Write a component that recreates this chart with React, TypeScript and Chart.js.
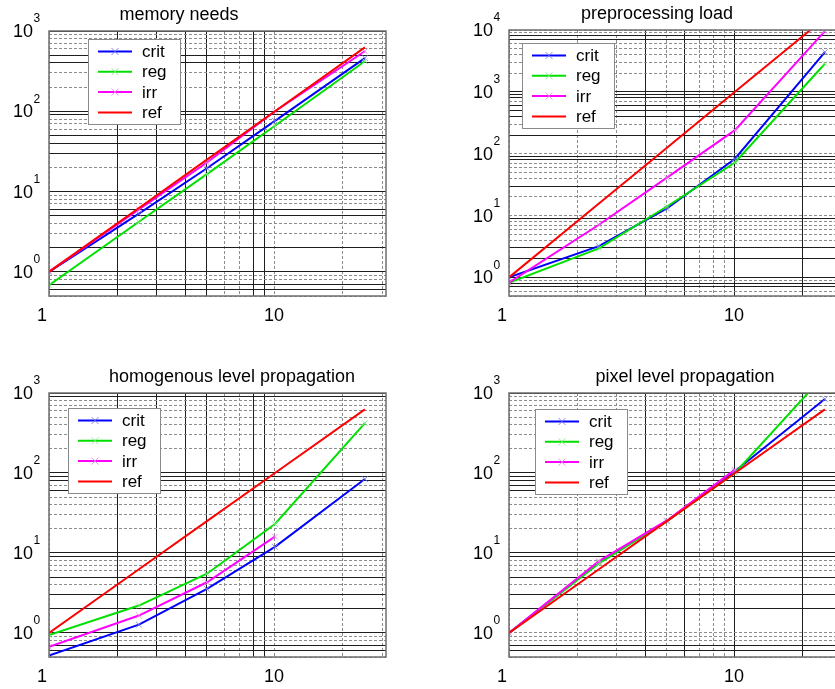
import React, { useEffect, useRef } from "react";
import { Chart, registerables } from "chart.js";

Chart.register(...registerables);

// ---------- data ----------
const xValues = [1, 2.5, 5, 10, 25];
const seriesNames = ["crit", "reg", "irr", "ref"];

const memCrit = [1, 5.3, 19.5, 76, 460];
const memReg = [0.68, 4.2, 16.5, 66, 420];
const memIrr = [1, 6, 23, 100, 560];
const memRef = [1, 6.25, 25, 100, 625];

const preCrit = [1, 3.2, 13, 83, 4400];
const preReg = [0.82, 2.95, 14, 72, 2850];
const preIrr = [0.82, 7.1, 41, 240, 9600];
const preRef = [1, 15.6, 125, 1000, 15625];

const homCrit = [0.52, 1.27, 3.55, 11.9, 84];
const homReg = [0.94, 2.2, 5.5, 23, 420];
const homIrr = [0.67, 1.65, 4.3, 16, null];
const homRef = [1, 6.25, 25, 100, 625];

const pixCrit = [1, 7.6, 25, 105, 840];
const pixReg = [1, 7.4, 25, 100, 1700];
const pixIrr = [1, 7.9, 25.5, 110, null];
const pixRef = [1, 6.25, 25, 100, 625];

const panelTitles = [
  "memory needs",
  "preprocessing load",
  "homogenous level propagation",
  "pixel level propagation",
];
const xTickValues = [1, 10];
const xTickLabels = ["1", "10"];
const xMin = 1;
const xMax = 31;
const yMin = 0.5;
const yMaxes = [1000, 10000, 1000, 1000];

const panelSeries = [
  [memCrit, memReg, memIrr, memRef],
  [preCrit, preReg, preIrr, preRef],
  [homCrit, homReg, homIrr, homRef],
  [pixCrit, pixReg, pixIrr, pixRef],
];

// ---------- styles / layout ----------
const FONT = '"Liberation Sans", Arial, Helvetica, sans-serif';
const lineColors = ["#0000ff", "#00e000", "#ff00ff", "#ff0000"];
const markerColors = [
  "rgba(120,120,230,0.85)",
  "rgba(130,230,130,0.85)",
  "rgba(235,130,235,0.85)",
  "rgba(0,0,0,0)",
];
const drawOrder = [3, 2, 1, 0];

const leftColSolidX = [2, 3, 4, 5, 8, 9];
const rightColSolidX = [4, 6, 10, 20];

const layouts = [
  {
    left: 0, top: 0, width: 417, height: 340,
    pad: { left: 49, top: 31, right: 31, bottom: 44 },
    titleDx: 130, titleDy: -11.5, legendDx: 39, legendDy: 8,
    xSolid: leftColSolidX,
    ySolid: [0.6, 0.7, 1, 2, 5, 6, 10, 30, 40, 50, 90, 100, 400, 500, 1000],
  },
  {
    left: 417, top: 0, width: 450, height: 340,
    pad: { left: 92, top: 30, right: 21, bottom: 44 },
    titleDx: 148, titleDy: -10.7, legendDx: 13, legendDy: 13,
    xSolid: rightColSolidX,
    ySolid: [0.7, 0.8, 1, 2, 3, 9, 30, 80, 90, 200, 400, 500, 600, 800, 900, 1000, 7000, 8000],
  },
  {
    left: 0, top: 340, width: 417, height: 349,
    pad: { left: 49, top: 53, right: 31, bottom: 32 },
    titleDx: 183, titleDy: -11.3, legendDx: 19, legendDy: 15,
    xSolid: leftColSolidX,
    ySolid: [0.6, 0.7, 1, 2, 3, 5, 9, 10, 60, 80, 90, 100, 900, 1000],
  },
  {
    left: 417, top: 340, width: 450, height: 349,
    pad: { left: 92, top: 53, right: 21, bottom: 32 },
    titleDx: 176, titleDy: -10.7, legendDx: 26, legendDy: 16,
    xSolid: rightColSolidX,
    ySolid: [0.6, 0.7, 2, 3, 5, 9, 10, 60, 70, 80, 90, 100, 1000],
  },
];

function logTicks(min: number, max: number) {
  const out: number[] = [];
  const e0 = Math.floor(Math.log10(min));
  const e1 = Math.ceil(Math.log10(max));
  for (let e = e0; e <= e1; e++) {
    for (let m = 1; m <= 9; m++) {
      const v = Number((m * Math.pow(10, e)).toPrecision(6));
      if (v >= min * 0.9999 && v <= max * 1.0001) out.push(v);
    }
  }
  return out;
}

function makeDecor(idx: number) {
  const L = layouts[idx];
  return {
    id: "decor" + idx,
    afterDraw(chart: any) {
      const ctx = chart.ctx as CanvasRenderingContext2D;
      const a = chart.chartArea;
      const xs = chart.scales.x;
      const ys = chart.scales.y;
      ctx.save();
      ctx.setLineDash([]);
      // axes box
      ctx.strokeStyle = "#6e6e6e";
      ctx.lineWidth = 1.5;
      ctx.strokeRect(a.left, a.top, a.right - a.left, a.bottom - a.top);

      // legend
      const bx = a.left + L.legendDx;
      const by = a.top + L.legendDy;
      const bw = 92;
      const bh = 85;
      ctx.fillStyle = "#ffffff";
      ctx.fillRect(bx, by, bw, bh);
      ctx.strokeStyle = "#8a8a8a";
      ctx.lineWidth = 1;
      ctx.strokeRect(bx + 0.5, by + 0.5, bw, bh);
      chart.data.datasets.forEach((ds: any, i: number) => {
        const ry = by + 12.5 + i * 20.3;
        ctx.strokeStyle = ds.borderColor;
        ctx.lineWidth = 2;
        ctx.beginPath();
        ctx.moveTo(bx + 10, ry);
        ctx.lineTo(bx + 44, ry);
        ctx.stroke();
        if (ds.pointRadius > 0) {
          const cx = bx + 27;
          const r = 3.5;
          ctx.strokeStyle = ds.pointBorderColor;
          ctx.lineWidth = 1;
          ctx.beginPath();
          ctx.moveTo(cx - r, ry - r);
          ctx.lineTo(cx + r, ry + r);
          ctx.moveTo(cx - r, ry + r);
          ctx.lineTo(cx + r, ry - r);
          ctx.stroke();
        }
        ctx.fillStyle = "#000";
        ctx.font = `17px ${FONT}`;
        ctx.textAlign = "left";
        ctx.textBaseline = "middle";
        ctx.fillText(ds.label, bx + 54, ry + 1);
      });

      // y tick labels (10^n)
      ctx.fillStyle = "#000";
      const eMin = Math.ceil(Math.log10(ys.min) - 1e-9);
      const eMax = Math.floor(Math.log10(ys.max) + 1e-9);
      for (let e = eMin; e <= eMax; e++) {
        const py = ys.getPixelForValue(Math.pow(10, e));
        ctx.font = `18px ${FONT}`;
        ctx.textAlign = "right";
        ctx.textBaseline = "middle";
        ctx.fillText("10", a.left - 16, py + 1);
        ctx.font = `12px ${FONT}`;
        ctx.textAlign = "left";
        ctx.fillText(String(e), a.left - 15.5, py - 12);
      }

      // x tick labels
      const xOffsets = [-7, -1];
      xTickValues.forEach((v, i) => {
        const px = xs.getPixelForValue(v);
        ctx.font = `18px ${FONT}`;
        ctx.textAlign = "center";
        ctx.textBaseline = "middle";
        ctx.fillText(xTickLabels[i], px + (xOffsets[i] || 0), a.bottom + 20);
      });

      // title
      ctx.font = `18px ${FONT}`;
      ctx.textAlign = "center";
      ctx.textBaseline = "alphabetic";
      ctx.fillText(panelTitles[idx], a.left + L.titleDx, a.top + L.titleDy);
      ctx.restore();
    },
  };
}

function Panel({ idx }: { idx: number }) {
  const ref = useRef<HTMLCanvasElement>(null);
  const L = layouts[idx];
  useEffect(() => {
    const canvas = ref.current;
    if (!canvas) return;
    const xSolid = new Set(L.xSolid);
    const ySolid = new Set(L.ySolid);
    const gridColor = (set: Set<number>) => (c: any) =>
      c.tick && set.has(c.tick.value) ? "#1e1e1e" : "#8c8c8c";
    const gridDash = (set: Set<number>) => (c: any) =>
      c.tick && set.has(c.tick.value) ? [] : [3, 2];

    const datasets = panelSeries[idx].map((vals, si) => ({
      label: seriesNames[si],
      data: xValues
        .map((x, i) => ({ x, y: vals[i] }))
        .filter((p) => p.y !== null && p.y !== undefined),
      borderColor: lineColors[si],
      backgroundColor: lineColors[si],
      borderWidth: 2,
      pointStyle: "crossRot",
      pointRadius: si === 3 ? 0 : 4,
      pointBorderColor: markerColors[si],
      pointBackgroundColor: markerColors[si],
      pointBorderWidth: 1,
      tension: 0,
      fill: false,
      order: drawOrder[si],
    }));

    const chart = new Chart(canvas, {
      type: "line",
      data: { datasets },
      options: {
        responsive: false,
        animation: false,
        events: [],
        layout: { padding: L.pad },
        plugins: {
          legend: { display: false },
          title: { display: false },
          tooltip: { enabled: false },
        },
        scales: {
          x: {
            type: "logarithmic",
            min: xMin,
            max: xMax,
            afterBuildTicks: (s: any) => {
              s.ticks = logTicks(xMin, xMax).map((v) => ({ value: v }));
            },
            afterFit: (s: any) => {
              s.height = 0;
            },
            ticks: { display: false, callback: () => "" },
            grid: { color: gridColor(xSolid), lineWidth: 1, drawTicks: false },
            border: { display: false, dash: gridDash(xSolid) },
          },
          y: {
            type: "logarithmic",
            min: yMin,
            max: yMaxes[idx],
            afterBuildTicks: (s: any) => {
              s.ticks = logTicks(yMin, yMaxes[idx]).map((v) => ({ value: v }));
            },
            afterFit: (s: any) => {
              s.width = 0;
            },
            ticks: { display: false, callback: () => "" },
            grid: { color: gridColor(ySolid), lineWidth: 1, drawTicks: false },
            border: { display: false, dash: gridDash(ySolid) },
          },
        },
      } as any,
      plugins: [makeDecor(idx)],
    } as any);
    return () => chart.destroy();
  }, []);
  return (
    <canvas
      ref={ref}
      width={L.width}
      height={L.height}
      style={{
        position: "absolute",
        left: L.left,
        top: L.top,
        width: L.width,
        height: L.height,
        display: "block",
      }}
    />
  );
}

export default function App() {
  return (
    <div
      style={{
        position: "fixed",
        left: 0,
        top: 0,
        width: 835,
        height: 689,
        overflow: "hidden",
        background: "#ffffff",
      }}
    >
      {[0, 1, 2, 3].map((i) => (
        <Panel key={i} idx={i} />
      ))}
    </div>
  );
}
